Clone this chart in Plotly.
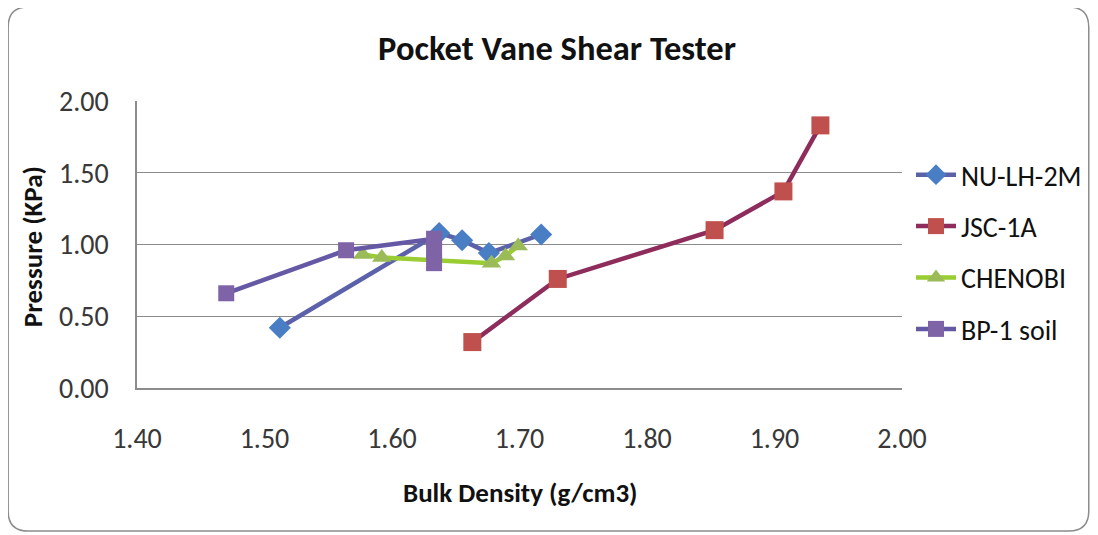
import plotly.graph_objects as go

# ---- data ----
nu_x = [1.512, 1.637, 1.655, 1.676, 1.717]
nu_y = [0.42, 1.08, 1.03, 0.94, 1.07]

jsc_x = [1.663, 1.730, 1.853, 1.907, 1.936]
jsc_y = [0.32, 0.76, 1.10, 1.37, 1.83]

chen_x = [1.577, 1.592, 1.678, 1.689, 1.699]
chen_y = [0.93, 0.91, 0.87, 0.92, 0.99]

bp_x = [1.470, 1.564, 1.633, 1.633, 1.633]
bp_y = [0.66, 0.96, 1.04, 0.96, 0.87]

x_ticks = [1.40, 1.50, 1.60, 1.70, 1.80, 1.90, 2.00]
y_ticks = [0.00, 0.50, 1.00, 1.50, 2.00]

FONT = "Carlito, Lato, 'Open Sans', sans-serif"

OX, OY = 8, 8                 # page body margin offset
W, H = 1098 - OX, 535 - OY    # figure size
# plot area in page pixels
L, R, T, B = 137, 903, 101, 388

fig = go.Figure()

series = [
    ("NU-LH-2M", nu_x, nu_y, "#5B62AA", "#4A7EC4", "diamond", 17),
    ("JSC-1A", jsc_x, jsc_y, "#8E2D5C", "#C0504D", "square", 18),
    ("CHENOBI", chen_x, chen_y, "#9ACD32", "#9BBB59", "triangle-up", 17),
    ("BP-1 soil", bp_x, bp_y, "#6559A6", "#7E63A6", "square", 16),
]
for i, (name, xs, ys, lc, mc, sym, ms) in enumerate(series):
    fig.add_trace(go.Scatter(
        x=xs, y=ys, name=name, mode="lines+markers",
        line=dict(color=lc, width=4.5),
        marker=dict(color=mc, symbol=sym, size=ms, line=dict(width=0)),
        legendgroup=f"g{i}",
    ))

def px2x(px):
    return (px - L) / (R - L)

def px2y(py):
    return (B - py) / (B - T)

# rounded outer frame (page pixels)
x0, x1, y0, y1, r = 8, 1090, 7, 531, 20
def P(px, py):
    return f"{px2x(px):.5f},{px2y(py):.5f}"
path = (f"M {P(x0 + r, y0)} L {P(x1 - r, y0)} Q {P(x1, y0)} {P(x1, y0 + r)} "
        f"L {P(x1, y1 - r)} Q {P(x1, y1)} {P(x1 - r, y1)} "
        f"L {P(x0 + r, y1)} Q {P(x0, y1)} {P(x0, y1 - r)} "
        f"L {P(x0, y0 + r)} Q {P(x0, y0)} {P(x0 + r, y0)} Z")
fig.add_shape(type="path", path=path, xref="paper", yref="paper",
              line=dict(color="#8C8C8C", width=1.5), layer="below")

fig.update_layout(
    width=W, height=H,
    margin=dict(l=L - OX, r=(W + OX) - R, t=T - OY, b=(H + OY) - B),
    paper_bgcolor="white", plot_bgcolor="white",
    font=dict(family=FONT, color="#222222"),
    title=dict(text="<b>Pocket Vane Shear Tester</b>", x=(557 - OX) / W, xanchor="center",
               y=1 - (48 - OY) / H, yanchor="middle", yref="container",
               font=dict(size=34.5, family=FONT, color="#111111")),
    showlegend=True,
    legend=dict(x=px2x(911), xanchor="left", y=px2y(252), yanchor="middle",
                font=dict(size=28, family=FONT, color="#111111"),
                tracegroupgap=12, itemwidth=40, bgcolor="rgba(0,0,0,0)"),
    xaxis=dict(range=[1.40, 2.00], tickvals=x_ticks,
               ticktext=[f"{v:.2f}" for v in x_ticks],
               showgrid=False, zeroline=False, showline=True,
               linecolor="#8C8C8C", linewidth=1.5, ticks="",
               tickfont=dict(size=28, color="#383838"), ticklabelstandoff=25),
    yaxis=dict(range=[0, 2.0], tickvals=y_ticks,
               ticktext=[f"{v:.2f}" for v in y_ticks],
               showgrid=True, gridcolor="#8C8C8C", gridwidth=1.2,
               zeroline=False, showline=True, linecolor="#8C8C8C", linewidth=1.5,
               ticks="", tickfont=dict(size=28, color="#383838"),
               ticklabelstandoff=21),
    annotations=[
        dict(text="<b>Bulk Density (g/cm3)</b>", xref="paper", yref="paper",
             x=px2x(521), y=px2y(493), xanchor="center", yanchor="middle",
             showarrow=False, font=dict(size=27, family=FONT, color="#111111")),
        dict(text="<b>Pressure (KPa)</b>", xref="paper", yref="paper",
             x=px2x(32), y=px2y(247), xanchor="center", yanchor="middle",
             showarrow=False, textangle=-90,
             font=dict(size=27, family=FONT, color="#111111")),
    ],
)

fig.write_html("out.html")
